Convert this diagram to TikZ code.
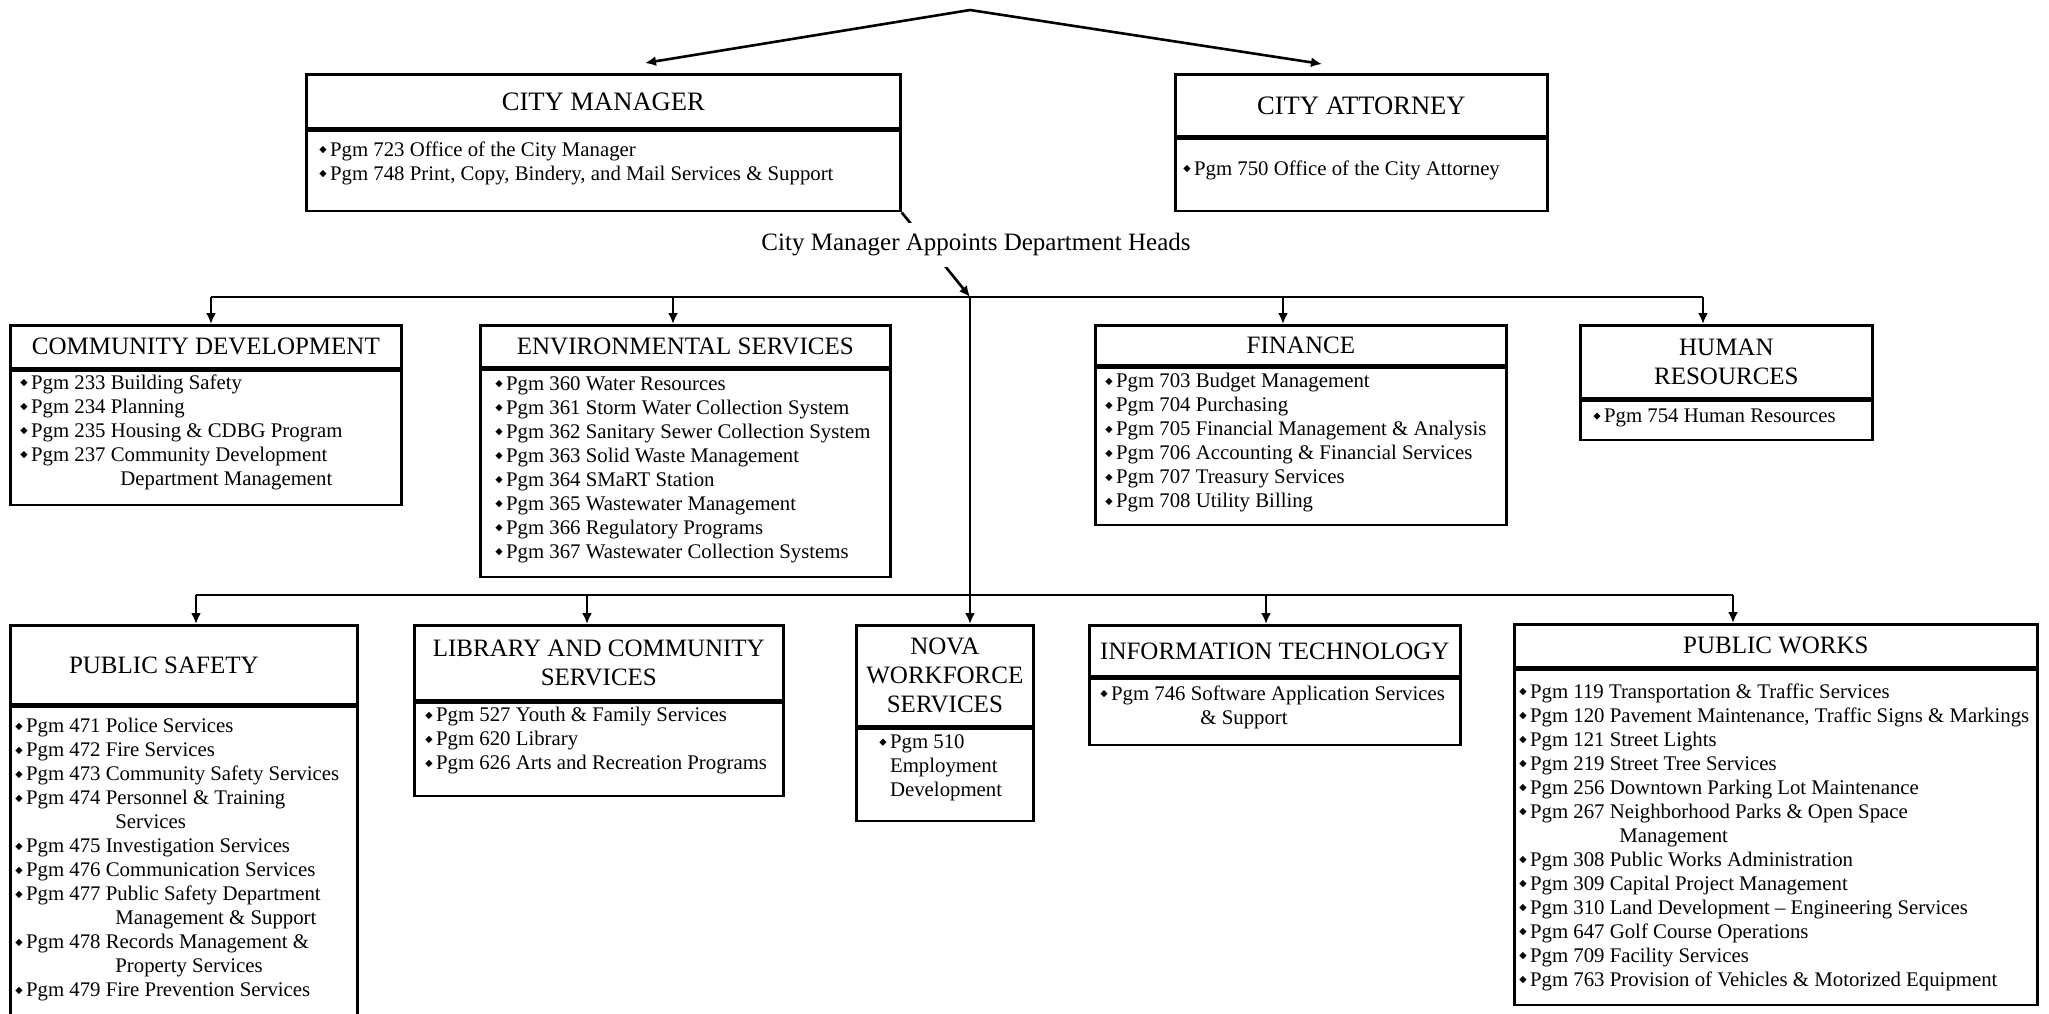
\documentclass[tikz,border=0pt]{standalone}
\usepackage{fontspec}
\setmainfont{Liberation Serif}
\usetikzlibrary{arrows.meta}
\newcommand\hdf{\fontsize{12.5}{14.5}\selectfont}
\newcommand\tpf{\fontsize{13.3}{15}\selectfont}
\newcommand\itf{\fontsize{10.4}{12}\selectfont}
\newcommand\bul{\raisebox{1.5pt}{\rotatebox{45}{\rule{2.5pt}{2.5pt}}}\hspace{1.8pt}}
\newcommand\cont{\hspace*{50pt}}
\begin{document}
\begin{tikzpicture}[x=0.5pt,y=-0.5pt,
  hbox/.style={draw,line width=1.35pt,inner sep=0pt,anchor=north west,align=center,font=\hdf},
  bbox/.style={draw,line width=1.35pt,inner sep=0pt,anchor=north west},
  items/.style={anchor=west,inner sep=0pt,align=left,font=\itf},
  conn/.style={line width=1.3pt},
  arr/.style={conn,-{Latex[length=5.5pt,width=5pt]}}]
\useasboundingbox (0,0) rectangle (2049,1013);

% ---- top level
\node[hbox,font=\tpf,minimum width=297pt,minimum height=27pt] (cmH) at (305,73) {CITY MANAGER};
\node[bbox,minimum width=297pt,minimum height=40pt] (cmB) at (cmH.south west) {};
\node[items] (cmI) at (319,163) {\bul Pgm 723 Office of the City Manager\\\bul Pgm 748 Print, Copy, Bindery, and Mail Services \& Support};

\node[hbox,font=\tpf,minimum width=186pt,minimum height=31pt] (caH) at (1174,73) {CITY ATTORNEY};
\node[bbox,minimum width=186pt,minimum height=36pt] (caB) at (caH.south west) {};
\node[items] (caI) at (1183,170) {\bul Pgm 750 Office of the City Attorney};

\coordinate (apex) at (970,10);
\coordinate (cmT) at (645,63);
\coordinate (caT) at (1322,64);
\draw[arr] (apex) -- (cmT);
\draw[arr] (apex) -- (caT);

% ---- upper row
\node[hbox,minimum width=195.5pt,minimum height=21.5pt] (cdH) at (9,324) {COMMUNITY DEVELOPMENT};
\node[bbox,minimum width=195.5pt,minimum height=67pt] (cdB) at (cdH.south west) {};
\node[items] (cdI) at (20,432) {\bul Pgm 233 Building Safety\\\bul Pgm 234 Planning\\\bul Pgm 235 Housing \& CDBG Program\\\bul Pgm 237 Community Development\\\cont Department Management};

\node[hbox,minimum width=205pt,minimum height=21pt] (esH) at (479,324) {ENVIRONMENTAL SERVICES};
\node[bbox,minimum width=205pt,minimum height=103.5pt] (esB) at (esH.south west) {};
\node[items] (esI) at (495,469.5) {\bul Pgm 360 Water Resources\\\bul Pgm 361 Storm Water Collection System\\\bul Pgm 362 Sanitary Sewer Collection System\\\bul Pgm 363 Solid Waste Management\\\bul Pgm 364 SMaRT Station\\\bul Pgm 365 Wastewater Management\\\bul Pgm 366 Regulatory Programs\\\bul Pgm 367 Wastewater Collection Systems};

\node[hbox,minimum width=205.5pt,minimum height=20pt] (finH) at (1094,324) {FINANCE};
\node[bbox,minimum width=205.5pt,minimum height=78.5pt] (finB) at (finH.south west) {};
\node[items] (finI) at (1105,443) {\bul Pgm 703 Budget Management\\\bul Pgm 704 Purchasing\\\bul Pgm 705 Financial Management \& Analysis\\\bul Pgm 706 Accounting \& Financial Services\\\bul Pgm 707 Treasury Services\\\bul Pgm 708 Utility Billing};

\node[hbox,minimum width=146pt,minimum height=36.5pt] (hrH) at (1579,324) {HUMAN\\RESOURCES};
\node[bbox,minimum width=146pt,minimum height=19.5pt] (hrB) at (hrH.south west) {};
\node[items] (hrI) at (1593,418) {\bul Pgm 754 Human Resources};

% ---- lower row
\node[hbox,minimum width=173.5pt,minimum height=39.5pt] (psH) at (9,624) {PUBLIC SAFETY\hspace*{20pt}};
\node[bbox,minimum width=173.5pt,minimum height=154pt] (psB) at (psH.south west) {};
\node[items] (psI) at (15,860) {\bul Pgm 471 Police Services\\\bul Pgm 472 Fire Services\\\bul Pgm 473 Community Safety Services\\\bul Pgm 474 Personnel \& Training\\\cont Services\\\bul Pgm 475 Investigation Services\\\bul Pgm 476 Communication Services\\\bul Pgm 477 Public Safety Department\\\cont Management \& Support\\\bul Pgm 478 Records Management \&\\\cont Property Services\\\bul Pgm 479 Fire Prevention Services};

\node[hbox,minimum width=184.5pt,minimum height=37.5pt] (libH) at (413,624) {LIBRARY AND COMMUNITY\\SERVICES};
\node[bbox,minimum width=184.5pt,minimum height=46.5pt] (libB) at (libH.south west) {};
\node[items] (libI) at (425,741) {\bul Pgm 527 Youth \& Family Services\\\bul Pgm 620 Library\\\bul Pgm 626 Arts and Recreation Programs};

\node[hbox,minimum width=88.5pt,minimum height=50.5pt] (novaH) at (855,624) {NOVA\\WORKFORCE\\SERVICES};
\node[bbox,minimum width=88.5pt,minimum height=46pt] (novaB) at (novaH.south west) {};
\node[items] (novaI) at (879,768) {\bul Pgm 510\\\phantom{\bul}Employment\\\phantom{\bul}Development};

\node[hbox,minimum width=185.5pt,minimum height=25.5pt] (itH) at (1088,624) {INFORMATION TECHNOLOGY};
\node[bbox,minimum width=185.5pt,minimum height=33pt] (itB) at (itH.south west) {};
\node[items] (itI) at (1100,707) {\bul Pgm 746 Software Application Services\\\cont \& Support};

\node[hbox,minimum width=261.5pt,minimum height=21.5pt] (pwH) at (1513,623) {PUBLIC WORKS};
\node[bbox,minimum width=261.5pt,minimum height=167.5pt] (pwB) at (pwH.south west) {};
\node[items] (pwI) at (1519,837) {\bul Pgm 119 Transportation \& Traffic Services\\\bul Pgm 120 Pavement Maintenance, Traffic Signs \& Markings\\\bul Pgm 121 Street Lights\\\bul Pgm 219 Street Tree Services\\\bul Pgm 256 Downtown Parking Lot Maintenance\\\bul Pgm 267 Neighborhood Parks \& Open Space\\\cont Management\\\bul Pgm 308 Public Works Administration\\\bul Pgm 309 Capital Project Management\\\bul Pgm 310 Land Development -- Engineering Services\\\bul Pgm 647 Golf Course Operations\\\bul Pgm 709 Facility Services\\\bul Pgm 763 Provision of Vehicles \& Motorized Equipment};

% ---- connectors
\coordinate (bus1) at (970,297);
\coordinate (bus2) at (970,595);
\coordinate (cdT) at (211,297);
\coordinate (esT) at (673,297);
\coordinate (finT) at (1283,297);
\coordinate (hrT) at (1703,297);
\coordinate (psT) at (196,595);
\coordinate (libT) at (587,595);
\coordinate (itT) at (1266,595);
\coordinate (pwT) at (1733,595);

\draw[arr] (cmB.south east) -- (bus1);
\node[fill=white,font=\hdf,inner xsep=2pt,inner ysep=5.5pt] (appt) at (976,245) {City Manager Appoints Department Heads};

\draw[conn] (cdT) -- (hrT);
\draw[arr] (cdT) -- (cdT |- cdH.north);
\draw[arr] (esT) -- (esT |- esH.north);
\draw[arr] (finT) -- (finT |- finH.north);
\draw[arr] (hrT) -- (hrT |- hrH.north);
\draw[conn] (bus1) -- (bus2);
\draw[conn] (psT) -- (pwT);
\draw[arr] (psT) -- (psT |- psH.north);
\draw[arr] (libT) -- (libT |- libH.north);
\draw[arr] (bus2) -- (bus2 |- novaH.north);
\draw[arr] (itT) -- (itT |- itH.north);
\draw[arr] (pwT) -- (pwT |- pwH.north);
\end{tikzpicture}
\end{document}
